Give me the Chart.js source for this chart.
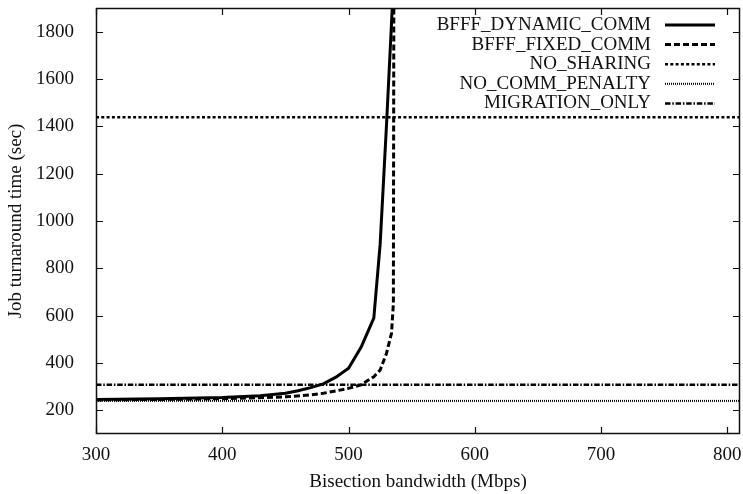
<!DOCTYPE html>
<html>
<head>
<meta charset="utf-8">
<title>Job turnaround time vs bisection bandwidth</title>
<script src="https://cdn.jsdelivr.net/npm/chart.js@4.4.1/dist/chart.umd.min.js"></script>
<style>
  html, body { margin: 0; padding: 0; background: #fff; }
  #wrap { width: 743px; height: 494px; }
</style>
</head>
<body>
<div id="wrap"><canvas id="chart" width="743" height="494"></canvas></div>
<script>
// --- DATI ---
const seriesNames = ['BFFF_DYNAMIC_COMM', 'BFFF_FIXED_COMM', 'NO_SHARING', 'NO_COMM_PENALTY', 'MIGRATION_ONLY'];

const bandwidthDynamic = [300, 350, 400, 430, 450, 460, 470, 480, 490, 500, 510, 520, 525, 530, 536];
const timeDynamic      = [246, 249, 254, 262, 272, 283, 296, 312, 340, 378, 467, 590, 900, 1400, 2050];

const bandwidthFixed = [300, 350, 400, 450, 470, 480, 490, 500, 510, 520, 525, 530, 534, 535.5, 536];
const timeFixed      = [244, 246, 249, 257, 265, 272, 282, 293, 308, 342, 370, 440, 525, 650, 2400];

// linee orizzontali (valori costanti)
const bandwidthRange = [300, 810];
const timeNoSharing = [1438, 1438];
const timeNoCommPenalty = [240, 240];
const timeMigrationOnly = [308, 308];

const xTicks = [300, 400, 500, 600, 700, 800];
const yTicks = [200, 400, 600, 800, 1000, 1200, 1400, 1600, 1800];

const FONT = '"Liberation Serif", "Times New Roman", serif';
const INK = '#111';

function toPoints(xs, ys) {
    return xs.map((x, i) => ({ x: x, y: ys[i] }));
}

// tacche interne + bordo (stile gnuplot)
const frameTicks = {
    id: 'frameTicks',
    afterDatasetsDraw(chart) {
        const { ctx, chartArea: a, scales: { x, y } } = chart;
        const len = 7;
        ctx.save();
        ctx.strokeStyle = INK;
        ctx.lineWidth = 1.2;
        ctx.setLineDash([]);
        ctx.beginPath();
        xTicks.forEach(v => {
            const px = Math.round(x.getPixelForValue(v)) + 0.5;
            ctx.moveTo(px, a.bottom); ctx.lineTo(px, a.bottom - len);
            ctx.moveTo(px, a.top); ctx.lineTo(px, a.top + len);
        });
        yTicks.forEach(v => {
            const py = Math.round(y.getPixelForValue(v)) + 0.5;
            ctx.moveTo(a.left, py); ctx.lineTo(a.left + len, py);
            ctx.moveTo(a.right, py); ctx.lineTo(a.right - len, py);
        });
        ctx.stroke();
        ctx.lineWidth = 1.5;
        ctx.strokeRect(Math.round(a.left) + 0.5, Math.round(a.top) + 0.5,
                       Math.round(a.right - a.left) - 1, Math.round(a.bottom - a.top) - 1);
        ctx.restore();
    }
};

// legenda a destra con testo allineato a destra e campione di linea
const rightLegend = {
    id: 'rightLegend',
    afterDatasetsDraw(chart) {
        const { ctx, chartArea: a } = chart;
        const lineEnd = a.right - 25;
        const lineStart = lineEnd - 50;
        ctx.save();
        ctx.font = '19px ' + FONT;
        ctx.fillStyle = INK;
        ctx.textAlign = 'right';
        ctx.textBaseline = 'middle';
        chart.data.datasets.forEach((ds, i) => {
            const yy = a.top + 17 + i * 19.6;
            ctx.fillText(ds.label, lineStart - 14, yy);
            ctx.strokeStyle = ds.borderColor;
            ctx.lineWidth = ds.borderWidth;
            ctx.setLineDash(ds.borderDash || []);
            ctx.beginPath();
            ctx.moveTo(lineStart, yy);
            ctx.lineTo(lineEnd, yy);
            ctx.stroke();
        });
        ctx.restore();
    }
};

const datasets = [
    { label: seriesNames[0], data: toPoints(bandwidthDynamic, timeDynamic), borderWidth: 3, borderDash: [] },
    { label: seriesNames[1], data: toPoints(bandwidthFixed, timeFixed), borderWidth: 3, borderDash: [6, 3] },
    { label: seriesNames[2], data: toPoints(bandwidthRange, timeNoSharing), borderWidth: 2.5, borderDash: [3, 2.3] },
    { label: seriesNames[3], data: toPoints(bandwidthRange, timeNoCommPenalty), borderWidth: 2, borderDash: [1, 1] },
    { label: seriesNames[4], data: toPoints(bandwidthRange, timeMigrationOnly), borderWidth: 2.5, borderDash: [5.5, 1.8, 1.5, 1.8] }
].map(ds => Object.assign(ds, {
    borderColor: '#000',
    backgroundColor: '#000',
    pointRadius: 0,
    tension: 0,
    fill: false,
    clip: 0
}));

new Chart(document.getElementById('chart'), {
    type: 'line',
    data: { datasets: datasets },
    options: {
        responsive: false,
        devicePixelRatio: 1,
        animation: false,
        layout: { padding: { top: 8, right: 3, left: 0, bottom: 0 } },
        plugins: {
            legend: { display: false },
            tooltip: { enabled: false }
        },
        scales: {
            x: {
                type: 'linear',
                min: 300,
                max: 810,
                afterFit(scale) {
                    scale.height = 60;
                    scale.paddingLeft = 0;
                    scale.paddingRight = 0;
                },
                afterBuildTicks(scale) { scale.ticks = xTicks.map(v => ({ value: v })); },
                grid: { display: false },
                border: { display: false },
                ticks: {
                    color: INK, font: { family: FONT, size: 19 }, padding: 2, maxRotation: 0,
                    callback: v => String(v)
                },
                title: {
                    display: true,
                    text: 'Bisection bandwidth (Mbps)',
                    color: INK,
                    font: { family: FONT, size: 19 },
                    padding: { top: 0, bottom: 1 }
                }
            },
            y: {
                type: 'linear',
                min: 100,
                max: 1900,
                afterFit(scale) {
                    scale.width = 96;
                    scale.paddingTop = 0;
                    scale.paddingBottom = 0;
                },
                afterBuildTicks(scale) { scale.ticks = yTicks.map(v => ({ value: v })); },
                grid: { display: false },
                border: { display: false },
                ticks: {
                    color: INK, font: { family: FONT, size: 19 }, padding: 14,
                    callback: v => String(v)
                },
                title: {
                    display: true,
                    text: 'Job turnaround time (sec)',
                    color: INK,
                    font: { family: FONT, size: 19 },
                    padding: { top: 5, bottom: 0 }
                }
            }
        }
    },
    plugins: [frameTicks, rightLegend]
});
</script>
</body>
</html>
